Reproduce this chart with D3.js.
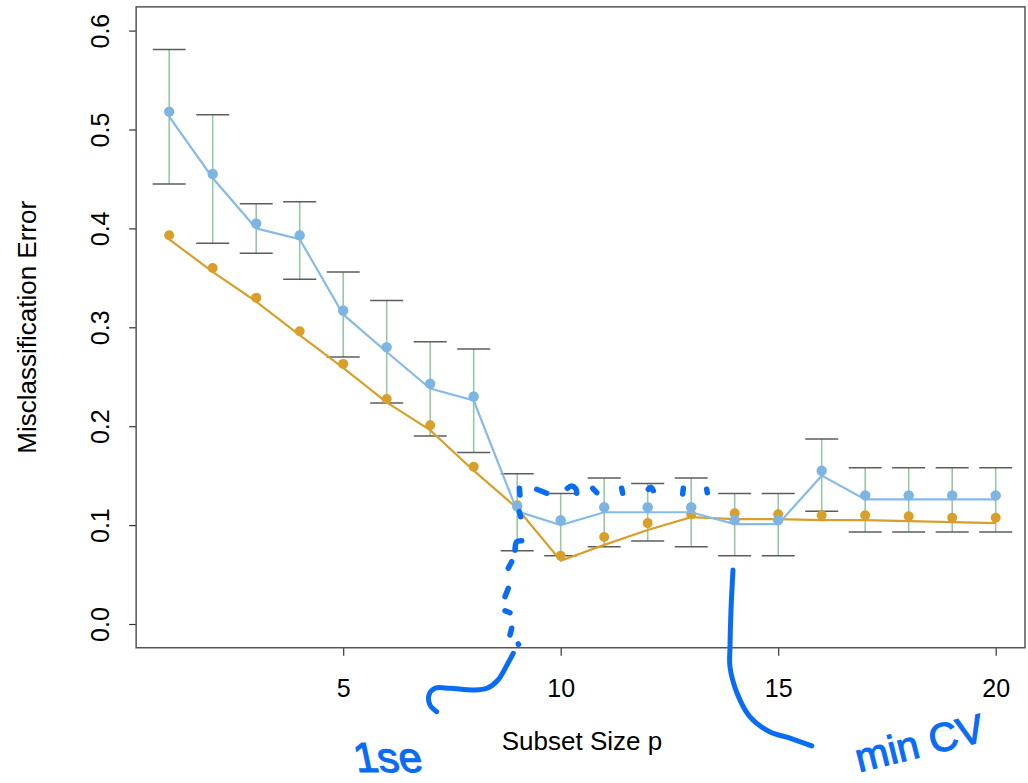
<!DOCTYPE html>
<html>
<head>
<meta charset="utf-8">
<script src="https://cdn.jsdelivr.net/npm/d3@7"></script>
<style>
  html, body { margin: 0; padding: 0; background: #ffffff; }
  svg { display: block; }
  text { font-family: "Liberation Sans", Arial, Helvetica, sans-serif; fill: #000; }
</style>
</head>
<body>
<svg id="chart" width="1028" height="783"></svg>
<script>
// Subset sizes on the x axis
const subsetSize = [1, 2, 3, 4, 5, 6, 7, 8, 9, 10, 11, 12, 13, 14, 15, 16, 17, 18, 19, 20];

// Tenfold cross-validation estimate (points) and its curve
const cvError = [0.518, 0.455, 0.405, 0.393, 0.317, 0.280, 0.243, 0.230, 0.119, 0.105,
                 0.118, 0.118, 0.118, 0.105, 0.105, 0.155, 0.130, 0.130, 0.130, 0.130];
const cvCurve = [0.513, 0.451, 0.400, 0.389, 0.313, 0.275, 0.238, 0.226, 0.114, 0.100,
                 0.113, 0.113, 0.113, 0.101, 0.101, 0.150, 0.126, 0.126, 0.126, 0.126];

// One standard error band around the CV estimate
const cvUpper = [0.581, 0.515, 0.425, 0.427, 0.356, 0.327, 0.2855, 0.278, 0.152, 0.132,
                 0.1475, 0.142, 0.1475, 0.132, 0.132, 0.187, 0.158, 0.158, 0.158, 0.158];
const cvLower = [0.445, 0.385, 0.375, 0.3485, 0.270, 0.2235, 0.190, 0.1735, 0.074, 0.069,
                 0.078, 0.084, 0.078, 0.069, 0.069, 0.114, 0.093, 0.093, 0.093, 0.093];

// True prediction (test) error: points and curve
const testError = [0.393, 0.360, 0.330, 0.296, 0.263, 0.2275, 0.201, 0.159, 0.120, 0.069,
                   0.088, 0.102, 0.111, 0.112, 0.111, 0.110, 0.110, 0.109, 0.1075, 0.1075];
const testCurve = [0.389, 0.356, 0.326, 0.292, 0.259, 0.224, 0.196, 0.155, 0.117, 0.064,
                   0.080, 0.095, 0.108, 0.106, 0.106, 0.105, 0.105, 0.104, 0.103, 0.102];

// Axis ticks
const xTicks = [5, 10, 15, 20];
const yTicks = [0.0, 0.1, 0.2, 0.3, 0.4, 0.5, 0.6];

// Hand-drawn ink, in data units (subset size, error)
const inkDots = [
  [[9.053, 0.1372], [9.064, 0.1304]],
  [[9.448, 0.1362], [9.678, 0.1322]],
  [[10.152, 0.1372], [10.25, 0.1395], [10.352, 0.1362], [10.368, 0.1322]],
  [[10.736, 0.1372], [10.828, 0.1328]],
  [[11.402, 0.1372], [11.425, 0.1322]],
  [[12.014, 0.1362], [12.069, 0.1382], [12.129, 0.1348]],
  [[12.818, 0.1372], [12.805, 0.1314]],
  [[13.356, 0.1362], [13.370, 0.1328]],
  [[9.048, 0.1136], [9.080, 0.1085]],
  [[8.949, 0.0748], [8.989, 0.0832], [9.103, 0.0842]],
  [[8.873, 0.0630], [8.795, 0.0563]],
  [[8.795, 0.0361], [8.720, 0.0276]],
  [[8.720, 0.0134], [8.834, 0.0114]],
  [[8.873, -0.0043], [8.834, -0.0111]],
  [[9.025, -0.0202], [9.030, -0.0206]]
];
const inkOneSe = [[8.910, -0.0296], [8.789, -0.0394], [8.559, -0.0566], [8.306, -0.0650],
                  [7.984, -0.0667], [7.455, -0.0650], [7.110, -0.0650], [6.972, -0.0718],
                  [6.995, -0.0819], [7.149, -0.0887]];
const inkMinCv = [[13.961, 0.0546], [13.915, 0.0142], [13.892, -0.0233], [13.892, -0.0435],
                  [14.053, -0.0698], [14.352, -0.0940], [14.812, -0.1092], [15.272, -0.1153],
                  [15.772, -0.1233]];

const svg = d3.select("#chart");

const x = d3.scaleLinear().domain([1, 20]).range([169.2, 995.7]);
const y = d3.scaleLinear().domain([0, 0.6]).range([624, 30.6]);

// plot frame (R style: axis extents padded 4%)
const frame = { left: x(0.24), right: 1025, top: y(0.624), bottom: y(-0.024) };

const blue = "#7db4e2";
const blueLine = "#86bbe8";
const orange = "#d99f2b";
const barGreen = "#96c8a6";
const capGrey = "#4a4a4a";
const ink = "#0a6cf5";

// y axis
const yAxis = d3.axisLeft(y).tickValues(yTicks).tickFormat(d3.format(".1f")).tickSize(7).tickPadding(0);
const gy = svg.append("g").attr("transform", `translate(${frame.left},0)`).call(yAxis);
gy.select(".domain").remove();
gy.selectAll(".tick line").attr("stroke", "#333").attr("stroke-width", 1.2);
gy.selectAll(".tick text")
  .attr("font-size", 25)
  .attr("transform", "rotate(-90)")
  .attr("x", 0)
  .attr("y", -27)
  .attr("text-anchor", "middle")
  .attr("dy", 0);

// x axis
const xAxis = d3.axisBottom(x).tickValues(xTicks).tickSize(8).tickPadding(0);
const gx = svg.append("g").attr("transform", `translate(0,${frame.bottom})`).call(xAxis);
gx.select(".domain").remove();
gx.selectAll(".tick line").attr("stroke", "#333").attr("stroke-width", 1.2);
gx.selectAll(".tick text").attr("font-size", 25).attr("y", 49).attr("dy", 0);

// frame
svg.append("rect")
  .attr("x", frame.left).attr("y", frame.top)
  .attr("width", frame.right - frame.left).attr("height", frame.bottom - frame.top)
  .attr("fill", "none").attr("stroke", "#555").attr("stroke-width", 1.5);

// axis titles
svg.append("text")
  .attr("x", 582).attr("y", 750)
  .attr("text-anchor", "middle").attr("font-size", 26)
  .text("Subset Size p");
svg.append("text")
  .attr("transform", `translate(36,${(frame.top + frame.bottom) / 2}) rotate(-90)`)
  .attr("text-anchor", "middle").attr("font-size", 26)
  .text("Misclassification Error");

const plot = svg.append("g");
const idx = subsetSize.map((_, i) => i);

// standard error bars
plot.selectAll("line.bar").data(idx).join("line")
  .attr("class", "bar")
  .attr("x1", i => x(subsetSize[i])).attr("x2", i => x(subsetSize[i]))
  .attr("y1", i => y(cvUpper[i])).attr("y2", i => y(cvLower[i]))
  .attr("stroke", barGreen).attr("stroke-width", 1.6);

const capHalf = 16.5;
[cvUpper, cvLower].forEach(arr => {
  plot.append("g").selectAll("line").data(idx).join("line")
    .attr("x1", i => x(subsetSize[i]) - capHalf).attr("x2", i => x(subsetSize[i]) + capHalf)
    .attr("y1", i => y(arr[i])).attr("y2", i => y(arr[i]))
    .attr("stroke", capGrey).attr("stroke-width", 1.5).attr("stroke-opacity", 0.9);
});

const line = vals => d3.line().x((d, i) => x(subsetSize[i])).y(d => y(d))(vals);

// test error
plot.append("path").attr("d", line(testCurve))
  .attr("fill", "none").attr("stroke", orange).attr("stroke-width", 2.2);
plot.append("g").selectAll("circle").data(idx).join("circle")
  .attr("cx", i => x(subsetSize[i])).attr("cy", i => y(testError[i]))
  .attr("r", 5).attr("fill", orange);

// cross-validation
plot.append("path").attr("d", line(cvCurve))
  .attr("fill", "none").attr("stroke", blueLine).attr("stroke-width", 2.2);
plot.append("g").selectAll("circle").data(idx).join("circle")
  .attr("cx", i => x(subsetSize[i])).attr("cy", i => y(cvError[i]))
  .attr("r", 5.2).attr("fill", blue);

// hand-drawn notes
const inkLine = d3.line().x(d => x(d[0])).y(d => y(d[1])).curve(d3.curveCatmullRom);
const notes = svg.append("g")
  .attr("fill", "none").attr("stroke", ink)
  .attr("stroke-linecap", "round").attr("stroke-linejoin", "round");
notes.selectAll("path.dot").data(inkDots).join("path")
  .attr("class", "dot").attr("d", inkLine).attr("stroke-width", 5.5);
notes.append("path").attr("d", inkLine(inkOneSe)).attr("stroke-width", 5);
notes.append("path").attr("d", inkLine(inkMinCv)).attr("stroke-width", 5);

svg.append("text")
  .attr("transform", `translate(${x(5.317)},${y(-0.150)}) skewX(12)`)
  .attr("font-size", 42).attr("font-family", "DejaVu Sans")
  .style("fill", ink).attr("stroke", ink).attr("stroke-width", 1.2)
  .text("1se");
svg.append("text")
  .attr("transform", `translate(${x(16.86)},${y(-0.150)}) rotate(-14)`)
  .attr("font-size", 40).attr("font-family", "DejaVu Sans")
  .style("fill", ink).attr("stroke", ink).attr("stroke-width", 1.2)
  .text("min CV");
</script>
</body>
</html>
